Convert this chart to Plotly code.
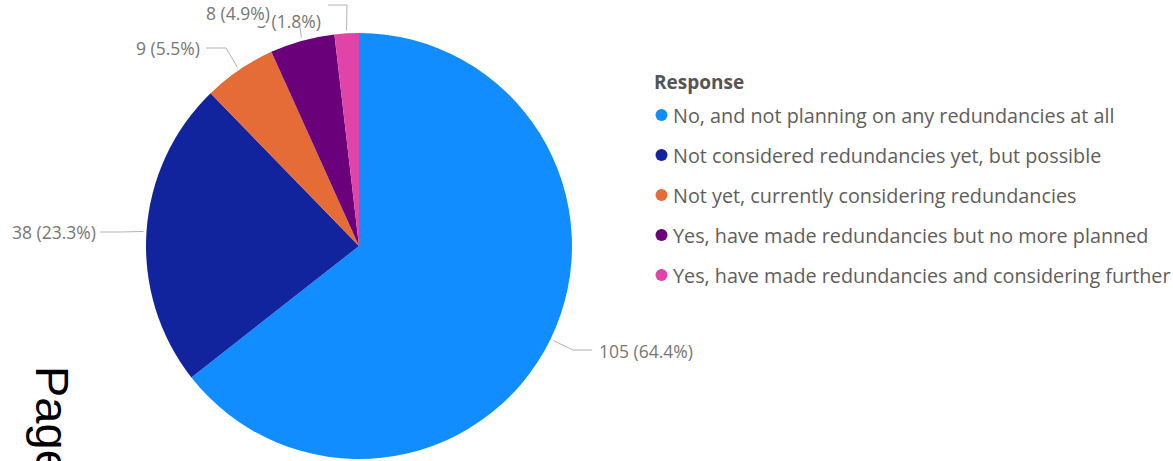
import math
import plotly.graph_objects as go

# ---- data ----
categories = [
    "No, and not planning on any redundancies at all",
    "Not considered redundancies yet, but possible",
    "Not yet, currently considering redundancies",
    "Yes, have made redundancies but no more planned",
    "Yes, have made redundancies and considering further",
]
values = [105, 38, 9, 8, 3]
legend_title = "Response"
side_text = "Page"

# ---- style ----
colors = ["#118DFF", "#12239E", "#E66C37", "#6B007B", "#E044A7"]
W, H = 1173, 461
CX, CY, R = 359, 246, 213
FONT = "Open Sans"
LABEL_COLOR = "#777777"
LEGEND_COLOR = "#605E5C"
LINE_COLOR = "#B3B3B3"

# label routing per slice (pixel layout): elbow, end, text anchor, side
label_layout = [
    dict(elbow=(573, 350), end=(592, 350), text=(598, 351), xanchor="left"),
    dict(elbow=(120, 232), end=(100, 232), text=(97, 232), xanchor="right"),
    dict(elbow=(226, 48), end=(206, 48), text=(201, 48), xanchor="right"),
    dict(elbow=(300, 27), end=(300, 27), text=(271, 13), xanchor="right"),
    dict(elbow=(347, 5), end=(328, 5), text=(322, 21), xanchor="right"),
]


def px(x):
    return x / W


def py(y):
    return 1 - y / H


total = sum(values)

fig = go.Figure()
fig.add_trace(go.Pie(
    labels=categories,
    values=values,
    marker=dict(colors=colors, line=dict(width=0)),
    sort=False,
    direction="clockwise",
    rotation=0,
    textinfo="none",
    showlegend=False,
    domain=dict(x=[px(CX - R), px(CX + R)], y=[py(CY + R), py(CY - R)]),
))

shapes = []
annotations = []

# data labels with leader lines (start point derived from slice angle)
cum = 0
label_anns = []
for i, v in enumerate(values):
    a = 2 * math.pi * (cum + v / 2) / total
    cum += v
    sx = CX + (R + 3) * math.sin(a)
    sy = CY - (R + 3) * math.cos(a)
    lay = label_layout[i]
    ex, ey = lay["elbow"]
    fx, fy = lay["end"]
    path = f"M {px(sx)} {py(sy)} L {px(ex)} {py(ey)} L {px(fx)} {py(fy)}"
    shapes.append(dict(type="path", xref="paper", yref="paper", path=path,
                       line=dict(color=LINE_COLOR, width=1)))
    pct = 100 * v / total
    tx, ty = lay["text"]
    label_anns.append(dict(
        x=px(tx), y=py(ty), xref="paper", yref="paper",
        text=f"{v} ({pct:.1f}%)", showarrow=False,
        xanchor=lay["xanchor"], yanchor="middle",
        font=dict(family=FONT, size=17.5, color=LABEL_COLOR),
        bgcolor="rgba(255,255,255,1)" if i == 3 else None,
        borderpad=0,
    ))
# draw the smallest label first so the neighbouring label overlaps it
annotations.append(label_anns[4])
annotations.extend(label_anns[:4])

# manual legend
annotations.append(dict(
    x=px(652), y=py(82), xref="paper", yref="paper", text=f"<b>{legend_title}</b>",
    showarrow=False, xanchor="left", yanchor="middle",
    font=dict(family=FONT, size=19, color="#555555"),
))
for i, (cat, col) in enumerate(zip(categories, colors)):
    yc = 115 + 40 * i
    shapes.append(dict(type="circle", xref="paper", yref="paper",
                       x0=px(655.5), x1=px(667.5), y0=py(yc + 6), y1=py(yc - 6),
                       fillcolor=col, line=dict(width=0)))
    annotations.append(dict(
        x=px(671), y=py(yc), xref="paper", yref="paper", text=cat,
        showarrow=False, xanchor="left", yanchor="middle",
        font=dict(family=FONT, size=19.8, color=LEGEND_COLOR),
    ))

# rotated side text (cut off at the bottom edge, as in the source)
annotations.append(dict(
    x=px(53), y=py(364), xref="paper", yref="paper", text=side_text,
    showarrow=False, textangle=90, xanchor="center", yanchor="top",
    font=dict(family="Liberation Sans", size=47, color="#000000"),
))

fig.update_layout(
    width=W, height=H, autosize=False,
    margin=dict(l=0, r=0, t=0, b=0),
    paper_bgcolor="white", plot_bgcolor="white",
    shapes=shapes, annotations=annotations,
    showlegend=False,
)

fig.write_html("out.html")
